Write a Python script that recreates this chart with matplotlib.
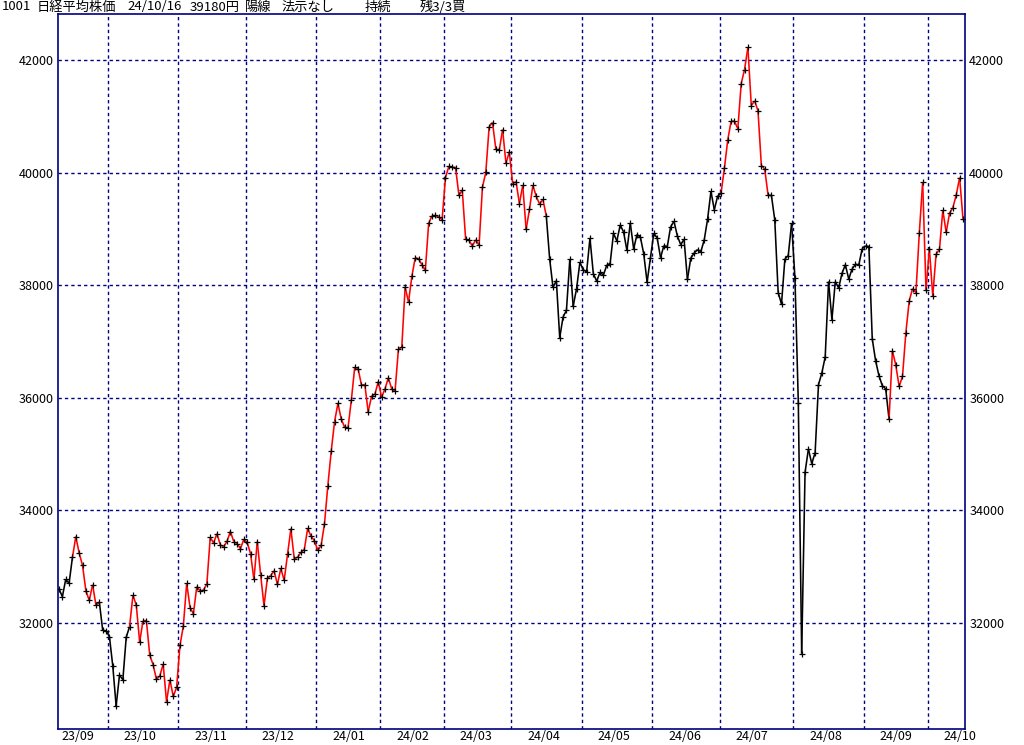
import numpy as np
import pandas as pd
import matplotlib
matplotlib.use('Agg')
import matplotlib.pyplot as plt
from matplotlib.collections import LineCollection
import matplotlib.transforms as mtransforms

plt.rcParams['font.family'] = ['Noto Sans CJK JP', 'DejaVu Sans']

# 日経平均 終値 (23/09/08 - 24/10/16)
close = [
    # 2023/09
    32606, 32467, 32776, 32706, 33168, 33533, 33242, 33023, 32571, 32402,
    32678, 32315, 32371, 31872, 31857,
    # 2023/10
    31759, 31237, 30526, 31075, 30994, 31746, 31936, 32494, 32315, 31659,
    32040, 32042, 31430, 31259, 30999, 31062, 31269, 30601, 30991, 30696, 30858,
    # 2023/11
    31601, 31949, 32708, 32271, 32166, 32646, 32568, 32585, 32695, 33519,
    33424, 33585, 33388, 33354, 33452, 33625, 33447, 33408, 33321, 33486,
    # 2023/12
    33431, 33231, 32775, 33445, 32858, 32307, 32791, 32843, 32926, 32686,
    32970, 32758, 33219, 33675, 33140, 33169, 33254, 33305, 33681, 33539, 33464,
    # 2024/01
    33288, 33377, 33763, 34441, 35049, 35577, 35901, 35619, 35477, 35466,
    35963, 36546, 36517, 36226, 36236, 35751, 36026, 36065, 36286,
    # 2024/02
    36011, 36158, 36354, 36160, 36119, 36863, 36897, 37963, 37703, 38157,
    38487, 38470, 38363, 38262, 39098, 39233, 39239, 39208, 39166,
    # 2024/03
    39910, 40109, 40097, 40090, 39598, 39688, 38820, 38797, 38695, 38807,
    38707, 39740, 40003, 40815, 40888, 40414, 40398, 40762, 40168, 40369,
    # 2024/04
    39803, 39838, 39451, 39773, 38992, 39347, 39773, 39581, 39442, 39523,
    39232, 38471, 37961, 38079, 37068, 37438, 37552, 38460, 37628, 37934, 38405,
    # 2024/05
    38274, 38236, 38835, 38202, 38073, 38229, 38179, 38356, 38385, 38920,
    38787, 39069, 38946, 38617, 39103, 38646, 38900, 38855, 38556, 38054, 38487,
    # 2024/06
    38923, 38837, 38490, 38703, 38683, 39038, 39134, 38876, 38720, 38814,
    38102, 38482, 38570, 38633, 38596, 38804, 39173, 39667, 39341, 39583,
    # 2024/07
    39631, 40074, 40580, 40913, 40912, 40780, 41580, 41831, 42224, 41190,
    41275, 41097, 40126, 40063, 39599, 39594, 39154, 37869, 37667, 38468,
    38525, 39101,
    # 2024/08
    38126, 35909, 31458, 34675, 35089, 34831, 35025, 36232, 36442, 36726,
    38062, 37388, 38062, 37951, 38211, 38364, 38110, 38288, 38371, 38362, 38647,
    # 2024/09
    38700, 38686, 37047, 36657, 36391, 36215, 36159, 35620, 36833, 36581,
    36203, 36380, 37155, 37723, 37940, 37870, 38925, 39829, 37919,
    # 2024/10
    38651, 37808, 38552, 38635, 39332, 38937, 39277, 39380, 39605, 39910, 39180,
]

# 東証休場日（平日分）
holidays = ['2023-09-18', '2023-10-09', '2023-11-03', '2023-11-23',
            '2024-01-01', '2024-01-02', '2024-01-03', '2024-01-08',
            '2024-02-12', '2024-02-23', '2024-03-20', '2024-04-29',
            '2024-05-03', '2024-05-06', '2024-07-15', '2024-08-12',
            '2024-09-16', '2024-09-23', '2024-10-14']

# 買い持続区間（赤線）: 点 a から点 b まで
red_runs = [(4, 12), (21, 145), (197, 211), (247, 269)]

yticks = [32000, 34000, 36000, 38000, 40000, 42000]
title_parts = ['1001', '日経平均株価', '24/10/16', '39180円', '陽線', '法示なし', '持続', '残3/3買']

dates = pd.bdate_range('2023-09-08', '2024-10-16', freq='C', holidays=holidays)
y = np.array(close, dtype=float)
x = np.arange(len(y))

navy = '#000080'
fig = plt.figure(figsize=(10.24, 7.45), dpi=100)
ax = fig.add_axes([58 / 1024, 16 / 745, 907 / 1024, 715 / 745])

# 線分の色分け
seg_colors = []
for i in range(len(y) - 1):
    red = any(a <= i < b for a, b in red_runs)
    seg_colors.append('#ff0000' if red else 'black')
segs = np.stack([np.column_stack([x[:-1], y[:-1]]), np.column_stack([x[1:], y[1:]])], axis=1)
ax.add_collection(LineCollection(segs, colors=seg_colors, linewidths=1.15, zorder=3))
ax.plot(x, y, '+', color='black', ms=3.8, mew=0.9, zorder=4)

ax.set_xlim(-0.3, len(y) - 0.4)
ax.set_ylim(30117, 42817)

# 月の区切り
months = dates.to_period('M')
starts = [i for i in range(1, len(months)) if months[i] != months[i - 1]]
for s in starts:
    ax.axvline(s - 0.45, color=navy, lw=1.0, ls=(0, (2.4, 2.2)), zorder=1)
for v in yticks:
    ax.axhline(v, color=navy, lw=1.0, ls=(0, (2.4, 2.2)), zorder=1)

# 月ラベル
trans = mtransforms.blended_transform_factory(ax.transData, ax.transAxes)
label_starts = [0] + starts
for s in label_starts:
    lx = s + 4.3 if s > 0 else 0.6
    ax.text(lx, -8 / 715, dates[s].strftime('%y/%m'), transform=trans,
            ha='left', va='center', fontsize=9, color='black', clip_on=False)

ax.set_xticks([])
ax.set_yticks(yticks)
ax.set_yticklabels([str(v) for v in yticks], fontsize=9)
ax.tick_params(axis='y', length=0, pad=3, labelleft=True, labelright=True)
for sp in ax.spines.values():
    sp.set_color(navy)
    sp.set_linewidth(1.2)

# タイトル
title_x = [2, 37, 127, 190, 245, 282, 365, 420]
for tx, t in zip(title_x, title_parts):
    fig.text(tx / 1024, 1 - 7 / 745, t, ha='left', va='center', fontsize=9.5)

fig.savefig('out.png', dpi=100)
